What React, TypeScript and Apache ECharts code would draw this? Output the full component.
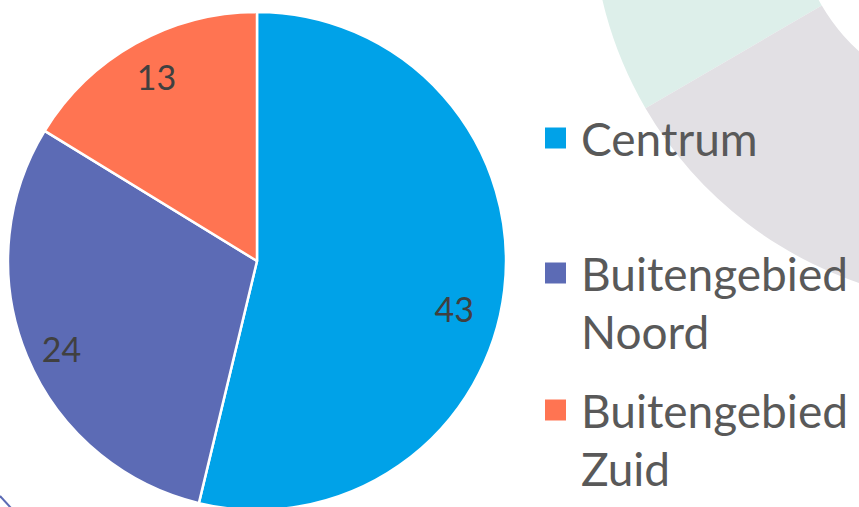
import React, { useEffect, useRef } from "react";
import * as echarts from "echarts";

const categories = ["Centrum", "Buitengebied Noord", "Buitengebied Zuid"];
const values = [43, 24, 13];
const colors = ["#00a2e8", "#5c6bb5", "#ff7452"];

const W = 859;
const H = 507;
const CX = 257;
const CY = 261;
const R = 249;
const LINE = 58;

export default function App() {
  const ref = useRef<HTMLDivElement>(null);
  useEffect(() => {
    if (!ref.current) return;
    const chart = echarts.init(ref.current, null, { renderer: "svg" });
    const deg = Math.PI / 180;
    const iconCenters = [138, 273, 410];
    const legends = categories.map((name, i) => {
      const multi = name.includes(" ");
      return {
        data: [name],
        orient: "vertical",
        left: 543,
        top: iconCenters[i] - (multi ? 1.5 : 0.5) * LINE,
        padding: 0,
        icon: "rect",
        itemWidth: 23,
        itemHeight: 23,
        formatter: (n: string) => (multi ? "\n" + n.replace(" ", "\n") : n),
        textStyle: {
          fontFamily: "Lato",
          fontSize: 46,
          lineHeight: LINE,
          color: "#595959",
          padding: [0, 0, 0, 9],
        },
      };
    });
    const labelShift = [
      [-13, 23],
      [0, 7],
      [3, 0],
    ];
    chart.setOption({
      animation: false,
      backgroundColor: "#ffffff",
      color: colors,
      graphic: [
        {
          type: "sector",
          silent: true,
          shape: { cx: 986, cy: -90, r: 394, r0: 190, startAngle: 149.8 * deg, endAngle: 270 * deg, clockwise: true },
          style: { fill: "#ddefea" },
        },
        {
          type: "sector",
          silent: true,
          shape: { cx: 986, cy: -90, r: 394, r0: 190, startAngle: 60 * deg, endAngle: 149.8 * deg, clockwise: true },
          style: { fill: "#e2e0e4" },
        },
        {
          type: "line",
          silent: true,
          shape: { x1: 0, y1: 496, x2: 11, y2: 508 },
          style: { stroke: "#5c6bb5", lineWidth: 2 },
        },
      ],
      legend: legends,
      series: [
        {
          type: "pie",
          center: [CX, CY],
          radius: [0, R],
          startAngle: 90,
          clockwise: true,
          itemStyle: { borderColor: "#ffffff", borderWidth: 2.5 },
          label: {
            show: true,
            position: "inside",
            formatter: "{c}",
            fontFamily: "Lato",
            fontSize: 34,
            color: "#404040",
          },
          labelLine: { show: false },
          labelLayout: (p: any) => {
            const r = p.labelRect;
            const lx = r.x + r.width / 2;
            const ly = r.y + r.height / 2;
            const k = 1.66;
            const s = labelShift[p.dataIndex] || [0, 0];
            const nx = CX + (lx - CX) * k + s[0];
            const ny = CY + (ly - CY) * k + s[1];
            return { x: nx, y: ny, align: "center", verticalAlign: "middle" };
          },
          data: categories.map((name, i) => ({ name, value: values[i] })),
        },
      ],
    });
    return () => chart.dispose();
  }, []);
  return (
    <div
      ref={ref}
      style={{ position: "absolute", left: 0, top: 0, width: W, height: H, background: "#fff" }}
    />
  );
}
